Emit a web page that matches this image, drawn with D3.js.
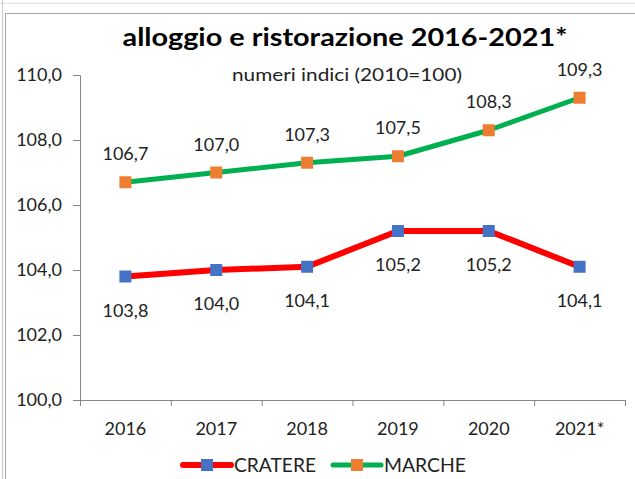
<!DOCTYPE html>
<html><head><meta charset="utf-8">
<script src="https://cdn.jsdelivr.net/npm/d3@7"></script>
<style>body{margin:0;background:#fff}svg{display:block}</style>
</head><body>
<svg id="c" width="635" height="479"></svg>
<script>
const categories = ["2016","2017","2018","2019","2020","2021*"];
const cratere = [103.8,104.0,104.1,105.2,105.2,104.1];
const marche = [106.7,107.0,107.3,107.5,108.3,109.3];
const yTicks = [100,102,104,106,108,110];
const title = "alloggio e ristorazione 2016-2021*";
const subtitle = "numeri indici (2010=100)";

const svg = d3.select("#c");
const font = "Lato, 'Open Sans', sans-serif";
// spreadsheet gridlines & frame
svg.append("line").attr("x1",0).attr("x2",635).attr("y1",3.5).attr("y2",3.5).attr("stroke","#e0e0e0");
svg.append("line").attr("x1",2.5).attr("x2",2.5).attr("y1",0).attr("y2",479).attr("stroke","#c8c8c8");
svg.append("rect").attr("x",5.5).attr("y",13.5).attr("width",640).attr("height",480)
  .attr("fill","#fff").attr("stroke","#a6a6a6");

const x = d3.scaleBand().domain(categories).range([80,625]);
const y = d3.scaleLinear().domain([100,110]).range([400,75]);
const fmt = v => d3.format(".1f")(v).replace(".", ",");

svg.append("text").attr("x",345).attr("y",46).attr("text-anchor","middle")
  .attr("font-family",font).attr("font-weight","bold").attr("font-size",25)
  .attr("textLength",445).attr("lengthAdjust","spacingAndGlyphs").attr("fill","#000").text(title);
svg.append("text").attr("x",347).attr("y",81).attr("text-anchor","middle")
  .attr("font-family",font).attr("font-size",16.5).attr("fill","#222")
  .attr("textLength",230).attr("lengthAdjust","spacingAndGlyphs").text(subtitle);

const yAxis = svg.append("g").attr("transform","translate(80,0)")
  .call(d3.axisLeft(y).tickValues(yTicks).tickSize(7).tickFormat(fmt));
const xAxis = svg.append("g").attr("transform","translate(0,400)")
  .call(d3.axisBottom(x).tickSize(0).tickPadding(22));
// category boundary ticks
const bounds = categories.map(c => x(c)).concat([x.range()[1]]);
svg.append("g").selectAll("line").data(bounds).join("line")
  .attr("x1",d=>d+0.5).attr("x2",d=>d+0.5).attr("y1",400).attr("y2",406).attr("stroke","#868686");
[yAxis,xAxis].forEach(a=>{
  a.selectAll("path,line").attr("stroke","#868686");
  a.selectAll("text").attr("font-family",font).attr("font-size",18).attr("fill","#222");
});
yAxis.selectAll("text").attr("x",-18);

const cx = (d,i) => x(categories[i]) + x.bandwidth()/2;
const line = d3.line().x((d,i)=>cx(d,i)).y(d=>y(d));

function series(data, lineCol, markCol, width, dy){
  svg.append("path").datum(data).attr("d",line).attr("fill","none")
    .attr("stroke",lineCol).attr("stroke-width",width).attr("stroke-linejoin","round");
  svg.append("g").selectAll("rect").data(data).join("rect")
    .attr("x",(d,i)=>cx(d,i)-6).attr("y",d=>y(d)-6).attr("width",12).attr("height",12).attr("fill",markCol);
  svg.append("g").selectAll("text").data(data).join("text")
    .attr("x",(d,i)=>cx(d,i)).attr("y",d=>y(d)+dy).attr("text-anchor","middle")
    .attr("font-family",font).attr("font-size",18).attr("fill","#222").text(fmt);
}
series(marche,"#00B050","#ED7D31",5,-22);
series(cratere,"#FF0000","#4472C4",6,40);

// legend
const legend = [{name:"CRATERE",line:"#FF0000",mark:"#4472C4",x:183,w:6},{name:"MARCHE",line:"#00B050",mark:"#ED7D31",x:333,w:5}];
const lg = svg.append("g").selectAll("g").data(legend).join("g").attr("transform",d=>`translate(${d.x},465)`);
lg.append("line").attr("x1",0).attr("x2",48).attr("y1",0).attr("y2",0).attr("stroke",d=>d.line)
  .attr("stroke-width",d=>d.w).attr("stroke-linecap","round");
lg.append("rect").attr("x",18).attr("y",-6).attr("width",12).attr("height",12).attr("fill",d=>d.mark);
lg.append("text").attr("x",51).attr("y",7).attr("font-family",font).attr("font-size",18.5)
  .attr("textLength",82).attr("lengthAdjust","spacingAndGlyphs")
  .attr("fill","#222").text(d=>d.name);
</script>
</body></html>
